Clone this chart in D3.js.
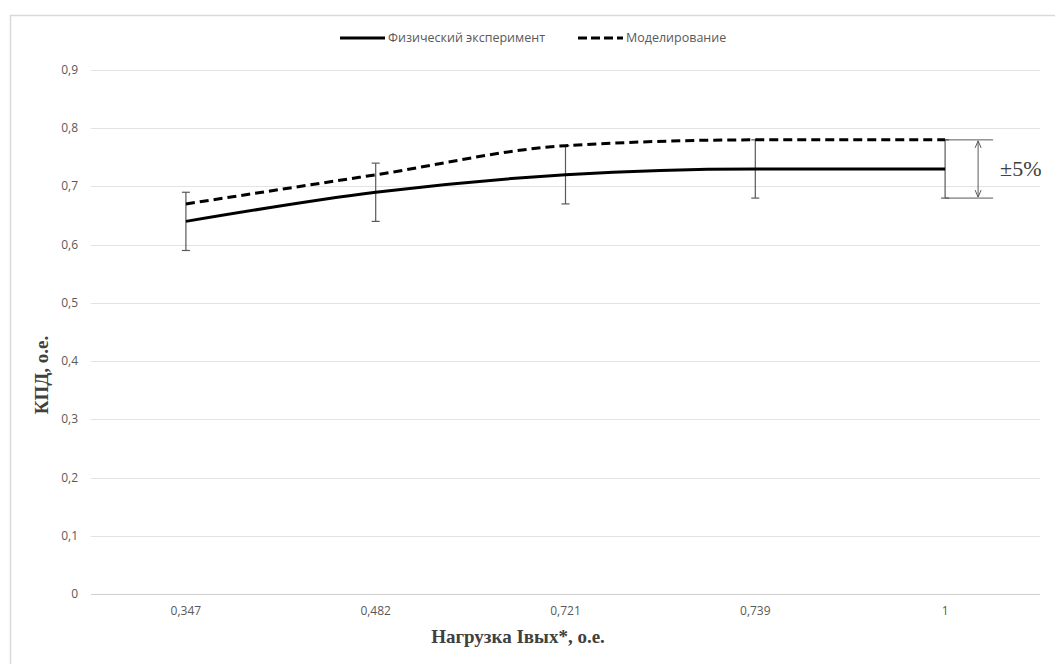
<!DOCTYPE html>
<html>
<head>
<meta charset="utf-8">
<script src="https://cdn.jsdelivr.net/npm/d3@7"></script>
<style>
  body { margin: 0; background: #fff; }
  svg { display: block; }
</style>
</head>
<body>
<svg id="chart"></svg>
<script>
// données
var categories = ["0,347", "0,482", "0,721", "0,739", "1"];
var experiment = [0.64, 0.69, 0.72, 0.73, 0.73];
var modeling = [0.67, 0.72, 0.77, 0.78, 0.78];
var errorPlus = 0.05;
var yTicks = [0, 0.1, 0.2, 0.3, 0.4, 0.5, 0.6, 0.7, 0.8, 0.9];
var legendNames = ["Физический эксперимент", "Моделирование"];

var width = 1055, height = 664;
var margin = { left: 91, right: 15, top: 70, bottom: 70 };

var svg = d3.select("#chart")
    .attr("width", width)
    .attr("height", height);

// cadre
svg.append("rect")
    .attr("x", 10.5).attr("y", 15.5)
    .attr("width", width + 20).attr("height", height + 20)
    .attr("fill", "none").attr("stroke", "#d9d9d9").attr("stroke-width", 1.5);

var x = d3.scaleBand()
    .domain(categories)
    .range([margin.left, width - margin.right]);

var y = d3.scaleLinear()
    .domain([0, 0.9])
    .range([height - margin.bottom, margin.top]);

// grille
svg.append("g")
    .selectAll("line")
    .data(yTicks)
    .enter().append("line")
    .attr("x1", margin.left).attr("x2", width - margin.right)
    .attr("y1", d => Math.round(y(d)) + 0.5).attr("y2", d => Math.round(y(d)) + 0.5)
    .attr("stroke", d => d === 0 ? "#cfcfcf" : "#e3e3e3")
    .attr("stroke-width", 1);

// labels axe y
svg.append("g")
    .selectAll("text")
    .data(yTicks)
    .enter().append("text")
    .attr("x", 78)
    .attr("y", d => y(d) + 4)
    .attr("text-anchor", "end")
    .attr("font-family", "Open Sans, sans-serif")
    .attr("font-size", 12)
    .attr("fill", "#595959")
    .text(d => d === 0 ? "0" : String(d).replace(".", ","));

// labels axe x
svg.append("g")
    .selectAll("text")
    .data(categories)
    .enter().append("text")
    .attr("x", d => x(d) + x.bandwidth() / 2)
    .attr("y", 615)
    .attr("text-anchor", "middle")
    .attr("font-family", "Liberation Sans Narrow, Arial Narrow, Open Sans, sans-serif")
    .attr("font-size", 12)
    .attr("fill", "#595959")
    .text(d => d);

// titres des axes
svg.append("text")
    .attr("x", 518).attr("y", 643)
    .attr("text-anchor", "middle")
    .attr("font-family", "Liberation Serif, serif")
    .attr("font-weight", "bold")
    .attr("font-size", 19)
    .attr("fill", "#404040")
    .text("Нагрузка Iвых*, о.е.");

svg.append("text")
    .attr("transform", "translate(48,375) rotate(-90)")
    .attr("text-anchor", "middle")
    .attr("font-family", "Liberation Serif, serif")
    .attr("font-weight", "bold")
    .attr("font-size", 19)
    .attr("fill", "#404040")
    .text("КПД, о.е.");

var cx = d => x(d) + x.bandwidth() / 2;

// barres d'erreur
var err = svg.append("g").attr("stroke", "#595959").attr("stroke-width", 1.2);
categories.forEach(function (c, i) {
    var lo = y(experiment[i] - errorPlus), hi = y(experiment[i] + errorPlus);
    err.append("line").attr("x1", cx(c)).attr("x2", cx(c)).attr("y1", lo).attr("y2", hi);
    err.append("line").attr("x1", cx(c) - 4).attr("x2", cx(c) + 4).attr("y1", lo).attr("y2", lo);
    err.append("line").attr("x1", cx(c) - 4).attr("x2", cx(c) + 4).attr("y1", hi).attr("y2", hi);
});

// courbes
var line = d3.line()
    .x((d, i) => cx(categories[i]))
    .y(d => y(d))
    .curve(d3.curveMonotoneX);

svg.append("path")
    .datum(modeling)
    .attr("d", line)
    .attr("fill", "none")
    .attr("stroke", "#000")
    .attr("stroke-width", 3)
    .attr("stroke-dasharray", "9,5");

svg.append("path")
    .datum(experiment)
    .attr("d", line)
    .attr("fill", "none")
    .attr("stroke", "#000")
    .attr("stroke-width", 3);

// annotation ±5%
var last = categories.length - 1;
var xa = cx(categories[last]);
var yTop = y(modeling[last]), yBot = y(experiment[last] - errorPlus);
var ann = svg.append("g").attr("stroke", "#595959").attr("stroke-width", 1);
ann.append("line").attr("x1", xa).attr("x2", xa + 48).attr("y1", yTop).attr("y2", yTop);
ann.append("line").attr("x1", xa).attr("x2", xa + 48).attr("y1", yBot).attr("y2", yBot);
ann.append("line").attr("x1", xa + 33).attr("x2", xa + 33).attr("y1", yTop + 1).attr("y2", yBot - 1);
ann.append("path").attr("fill", "none")
    .attr("d", "M" + (xa + 30) + "," + (yTop + 8) + "L" + (xa + 33) + "," + (yTop + 1) + "L" + (xa + 36) + "," + (yTop + 8));
ann.append("path").attr("fill", "none")
    .attr("d", "M" + (xa + 30) + "," + (yBot - 8) + "L" + (xa + 33) + "," + (yBot - 1) + "L" + (xa + 36) + "," + (yBot - 8));

svg.append("text")
    .attr("x", xa + 55).attr("y", (yTop + yBot) / 2 + 7)
    .attr("font-family", "Liberation Serif, serif")
    .attr("font-size", 22)
    .attr("fill", "#404040")
    .text("±5%");

// légende
var legend = svg.append("g").attr("transform", "translate(340,38)");
var lg = [
    { name: legendNames[0], dash: null, x: 0, len: 45 },
    { name: legendNames[1], dash: "9,4", x: 238, len: 45 }
];
lg.forEach(function (d) {
    legend.append("line")
        .attr("x1", d.x).attr("x2", d.x + d.len)
        .attr("y1", 0).attr("y2", 0)
        .attr("stroke", "#000").attr("stroke-width", 3)
        .attr("stroke-dasharray", d.dash);
    legend.append("text")
        .attr("x", d.x + d.len + 3).attr("y", 4)
        .attr("font-family", "Open Sans, sans-serif")
        .attr("font-size", 12.5)
        .attr("fill", "#595959")
        .text(d.name);
});
</script>
</body>
</html>
